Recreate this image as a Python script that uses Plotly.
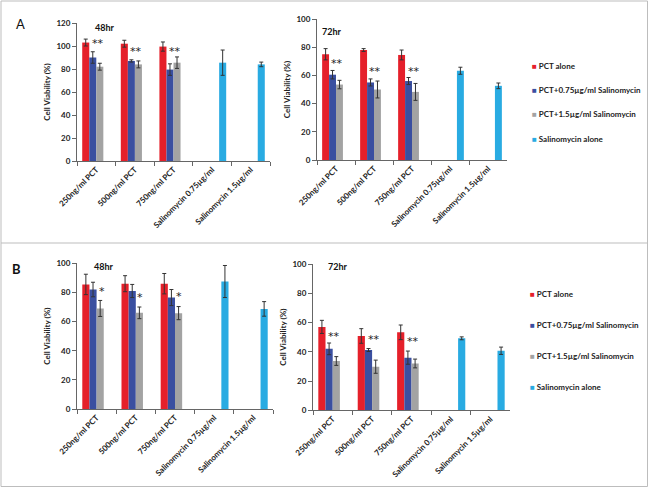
import plotly.graph_objects as go

W, H = 649, 488

categories = ["250ng/ml PCT", "500ng/ml PCT", "750ng/ml PCT",
              "Salinomycin 0.75µg/ml", "Salinomycin 1.5µg/ml"]
series_names = ["PCT alone", "PCT+0.75µg/ml Salinomycin",
                "PCT+1.5µg/ml Salinomycin", "Salinomycin alone"]
colors = ["#e5202a", "#3a4fa0", "#a3a3a3", "#29abe2"]

# Panel A, 48hr
a48_pct = [103, 102, 99.5, None, None]
a48_pct_err = [3, 3, 4, None, None]
a48_pct075 = [90, 87, 79.5, None, None]
a48_pct075_err = [5, 1, 5, None, None]
a48_pct15 = [82, 84, 85.5, None, None]
a48_pct15_err = [3, 3, 5, None, None]
a48_sal = [None, None, None, 85.5, 84]
a48_sal_err = [None, None, None, 11, 2]

# Panel A, 72hr
a72_pct = [75, 78, 74.5, None, None]
a72_pct_err = [4, 1, 3.5, None, None]
a72_pct075 = [60.5, 55, 56, None, None]
a72_pct075_err = [3, 2.5, 2.5, None, None]
a72_pct15 = [53.5, 50, 48.3, None, None]
a72_pct15_err = [3, 6, 6, None, None]
a72_sal = [None, None, None, 63.3, 52.6]
a72_sal_err = [None, None, None, 2.5, 2]

# Panel B, 48hr
b48_pct = [85.5, 86, 86, None, None]
b48_pct_err = [7, 5.5, 7, None, None]
b48_pct075 = [82, 81, 76.5, None, None]
b48_pct075_err = [5, 4.5, 5.5, None, None]
b48_pct15 = [69, 66, 65.8, None, None]
b48_pct15_err = [5.5, 4, 4.5, None, None]
b48_sal = [None, None, None, 87.5, 68.7]
b48_sal_err = [None, None, None, 11, 5]

# Panel B, 72hr
b72_pct = [57, 50.8, 53.3, None, None]
b72_pct_err = [4.5, 5, 5, None, None]
b72_pct075 = [42, 41.2, 36, None, None]
b72_pct075_err = [4, 1, 4.5, None, None]
b72_pct15 = [33.7, 29.8, 32, None, None]
b72_pct15_err = [3, 4.5, 3, None, None]
b72_sal = [None, None, None, 49.2, 40.7]
b72_sal_err = [None, None, None, 1, 2.5]

# significance marks (category, y value, text)
a48_marks = [("250ng/ml PCT", 102.6, "**"), ("500ng/ml PCT", 95, "**"), ("750ng/ml PCT", 95, "**")]
a72_marks = [("250ng/ml PCT", 68.7, "**"), ("500ng/ml PCT", 62.8, "**"), ("750ng/ml PCT", 62.8, "**")]
b48_marks = [("250ng/ml PCT", 80.5, "*"), ("500ng/ml PCT", 76.7, "*"), ("750ng/ml PCT", 77, "*")]
b72_marks = [("250ng/ml PCT", 50.4, "**"), ("500ng/ml PCT", 48.6, "**"), ("750ng/ml PCT", 47.3, "**")]

FONT = "Lato"
fig = go.Figure()

panels = [
    dict(ax="", vals=[a48_pct, a48_pct075, a48_pct15, a48_sal],
         errs=[a48_pct_err, a48_pct075_err, a48_pct15_err, a48_sal_err],
         marks=a48_marks, xshift=[2, 1, 1], yrange=120,
         xpx=(77, 270), ypx=(161, 23), title="48hr", tpos=(105, 28)),
    dict(ax="2", vals=[a72_pct, a72_pct075, a72_pct15, a72_sal],
         errs=[a72_pct_err, a72_pct075_err, a72_pct15_err, a72_sal_err],
         marks=a72_marks, xshift=[1, 1, 2], yrange=100,
         xpx=(317, 507), ypx=(160, 19), title="72hr", tpos=(332, 32)),
    dict(ax="3", vals=[b48_pct, b48_pct075, b48_pct15, b48_sal],
         errs=[b48_pct_err, b48_pct075_err, b48_pct15_err, b48_sal_err],
         marks=b48_marks, xshift=[5, 4, 4], yrange=100,
         xpx=(77, 273), ypx=(409, 263.3), title="48hr", tpos=(104, 266)),
    dict(ax="4", vals=[b72_pct, b72_pct075, b72_pct15, b72_sal],
         errs=[b72_pct_err, b72_pct075_err, b72_pct15_err, b72_sal_err],
         marks=b72_marks, xshift=[1, 2, 1], yrange=100,
         xpx=(313, 510), ypx=(410.3, 264), title="72hr", tpos=(338, 266)),
]

annotations = []
layout_axes = {}
for p in panels:
    ax = p["ax"]
    for name, col, v, e in zip(series_names, colors, p["vals"], p["errs"]):
        fig.add_trace(go.Bar(
            x=categories, y=v, name=name, marker_color=col, marker_line_width=0,
            error_y=dict(type="data", array=e, color="#333333", thickness=1, width=2),
            showlegend=False, xaxis="x" + ax, yaxis="y" + ax))
    x0, x1 = p["xpx"]
    yb, yt = p["ypx"]
    layout_axes["xaxis" + ax] = dict(
        domain=[x0 / W, x1 / W], anchor="y" + ax, type="category",
        categoryorder="array", categoryarray=categories, automargin=False,
        showline=True, linecolor="#666666", linewidth=1,
        ticks="outside", ticklen=4, tickcolor="#666666", tickson="boundaries",
        tickangle=-45, tickfont=dict(family=FONT, size=8, color="#222", weight="bold"),
        showgrid=False, zeroline=False, fixedrange=True)
    layout_axes["yaxis" + ax] = dict(
        domain=[1 - yb / H, 1 - yt / H], anchor="x" + ax, automargin=False,
        range=[0, p["yrange"]], dtick=20,
        showline=True, linecolor="#666666", linewidth=1,
        ticks="outside", ticklen=4, tickcolor="#666666",
        tickfont=dict(family=FONT, size=8, color="#222", weight="bold"),
        title=dict(text="Cell Viability (%)", standoff=4,
                   font=dict(family=FONT, size=8, color="#222", weight="bold")),
        showgrid=False, zeroline=False)
    for (cat, yv, txt), xs in zip(p["marks"], p["xshift"]):
        annotations.append(dict(x=cat, y=yv, xref="x" + ax, yref="y" + ax, text=txt,
                                showarrow=False, xshift=xs, xanchor="center",
                                yanchor="middle",
                                font=dict(family="DejaVu Sans", size=11, color="#222")))
    tx, ty = p["tpos"]
    annotations.append(dict(x=tx / W, y=1 - ty / H, xref="paper", yref="paper",
                            text=p["title"], showarrow=False,
                            xanchor="center", yanchor="middle",
                            font=dict(family=FONT, size=9, color="#111", weight="bold")))

# panel letters
annotations.append(dict(x=20 / W, y=1 - 24 / H, xref="paper", yref="paper", text="A",
                        showarrow=False, xanchor="center", yanchor="middle",
                        font=dict(family=FONT, size=13, color="#111")))
annotations.append(dict(x=16 / W, y=1 - 269 / H, xref="paper", yref="paper", text="B",
                        showarrow=False, xanchor="center", yanchor="middle",
                        font=dict(family=FONT, size=13, color="#111", weight="bold")))

# legends (one per panel)
legend_pos = [(530, [66, 90, 114.5, 139]), (528, [294, 325, 356, 387])]
for lx, ys in legend_pos:
    for name, col, ly in zip(series_names, colors, ys):
        annotations.append(dict(
            x=lx / W, y=1 - ly / H, xref="paper", yref="paper",
            xanchor="left", yanchor="middle",
            text=f"<span style='color:{col}'>■</span> {name}", showarrow=False,
            font=dict(family=FONT, size=8, color="#222", weight="bold")))

shapes = [
    dict(type="rect", xref="paper", yref="paper", x0=1 / W, x1=1 - 1.5 / W,
         y0=1.5 / H, y1=1 - 1 / H, line=dict(color="#bdbdbd", width=1)),
    dict(type="line", xref="paper", yref="paper", x0=1 / W, x1=1 - 1.5 / W,
         y0=1 - 243 / H, y1=1 - 243 / H, line=dict(color="#bdbdbd", width=1)),
]

fig.update_layout(
    width=W, height=H, margin=dict(l=0, r=0, t=0, b=0),
    paper_bgcolor="white", plot_bgcolor="white",
    barmode="group", bargap=0.27, bargroupgap=0,
    annotations=annotations, shapes=shapes, showlegend=False,
    **layout_axes)

fig.write_html(
    "out.html",
    config={"displayModeBar": False},
    post_script="document.body.style.margin='0';document.body.style.padding='0';"
                "document.body.style.overflow='hidden';")
